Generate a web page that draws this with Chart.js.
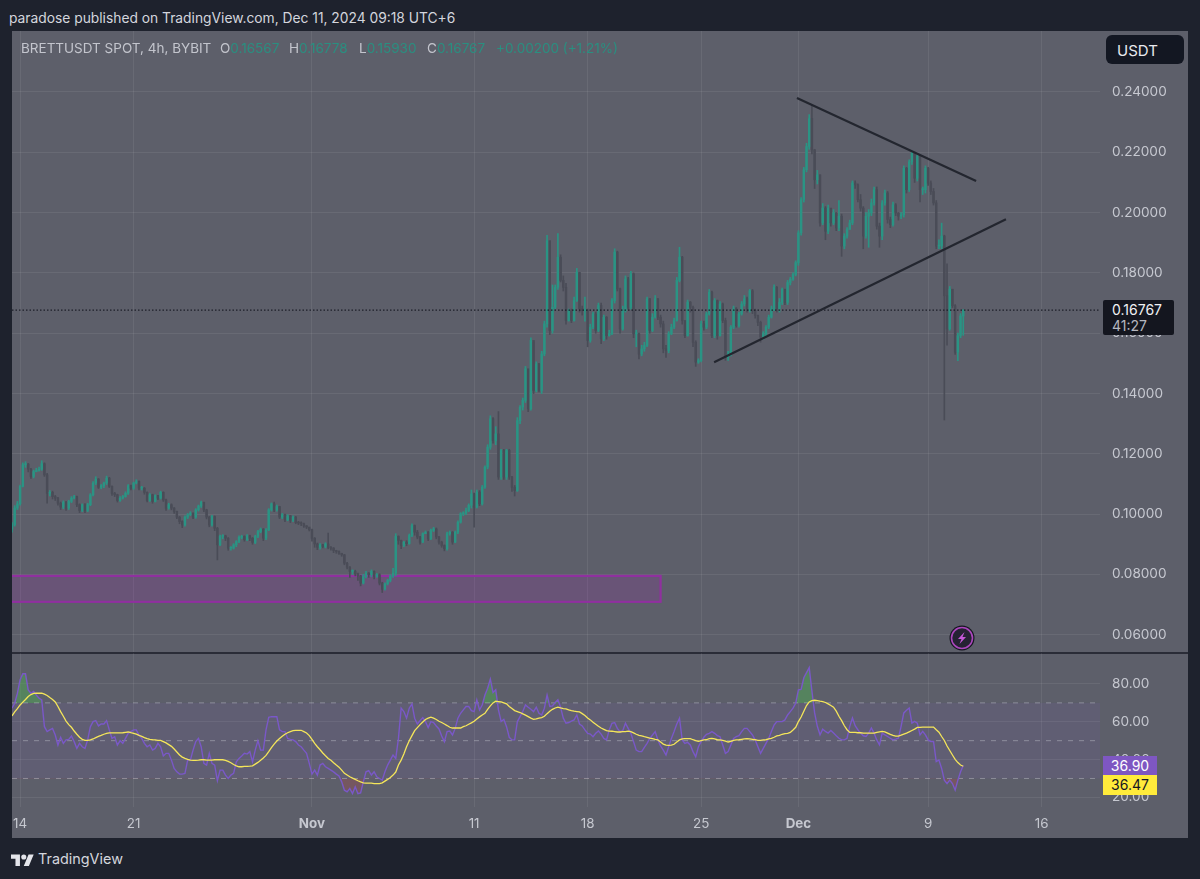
<!DOCTYPE html>
<html><head><meta charset="utf-8">
<script src="https://cdn.jsdelivr.net/npm/chart.js@4/dist/chart.umd.min.js"></script>
<style>
html,body{margin:0;padding:0;background:#1e222d;width:1200px;height:879px;overflow:hidden;font-family:Inter,"Noto Sans",sans-serif}
#panel{position:absolute;left:12px;top:31px;width:1176px;height:807px;background:#5d5f6a}
canvas{position:absolute;display:block}
.t{position:absolute;white-space:pre;line-height:1}
.tag{position:absolute;left:1103px;width:54px;height:19.5px;font-size:14px;line-height:19.5px;text-align:center}
</style></head><body>
<div id="panel"></div>
<canvas id="main" width="1176" height="621" style="left:12px;top:31px"></canvas>
<div style="position:absolute;left:12px;top:652px;width:1176px;height:1.5px;background:#2a2c37"></div>
<canvas id="osc" width="1176" height="185" style="left:12px;top:653px"></canvas>
<div class="t" style="left:9px;top:12px;font-size:13.8px;color:#d4d6dd">paradose published on TradingView.com, Dec 11, 2024 09:18 UTC+6</div>
<div class="t" style="left:21px;top:42px;font-size:13.5px;color:#c3c5cd">BRETTUSDT SPOT, 4h, BYBIT</div>
<div class="t" style="left:220px;top:42px;font-size:13.5px;color:#c3c5cd">O<span style="color:#2a8f80">0.16567</span></div>
<div class="t" style="left:289px;top:42px;font-size:13.5px;color:#c3c5cd">H<span style="color:#2a8f80">0.16778</span></div>
<div class="t" style="left:359px;top:42px;font-size:13.5px;color:#c3c5cd">L<span style="color:#2a8f80">0.15930</span></div>
<div class="t" style="left:427px;top:42px;font-size:13.5px;color:#c3c5cd">C<span style="color:#2a8f80">0.16767</span></div>
<div class="t" style="left:496px;top:42px;font-size:13.5px;color:#2a8f80">+0.00200 (+1.21%)</div>
<div style="position:absolute;left:1106px;top:35px;width:78px;height:29px;background:#131722;border-radius:6px"></div>
<div class="t" style="left:1117px;top:43px;font-size:15px;color:#e8e9ee">USDT</div>
<div style="position:absolute;left:1103px;top:300px;width:71px;height:35px;background:#14161f;border-radius:2px"></div>
<div class="t" style="left:1112px;top:303px;font-size:14px;color:#f0f1f4">0.16767</div>
<div class="t" style="left:1112px;top:319px;font-size:14px;color:#b4b6bf">41:27</div>
<div class="tag" style="top:756px;background:#7e57c2;color:#fff">36.90</div>
<div class="tag" style="top:775px;background:#ffeb3b;color:#131722">36.47</div>
<svg style="position:absolute;left:949px;top:625px" width="26" height="26" viewBox="0 0 26 26"><circle cx="13" cy="13" r="12.5" fill="#14161f"/><circle cx="13" cy="13" r="10.5" fill="#262233" stroke="#ab47bc" stroke-width="1.6"/><path d="M15.5 7 9 14h3.5L10.5 19 17 12h-3.5z" fill="#c558d8"/></svg>
<svg style="position:absolute;left:11px;top:853px" width="23" height="13" viewBox="0 0 36 20"><path d="M14 20H7V9H0V2h14zM28 20h-8l7.5-18h8z" fill="#e4e5ea"/><circle cx="20" cy="6" r="4" fill="#e4e5ea"/></svg>
<div class="t" style="left:38px;top:852px;font-size:14.4px;color:#d4d6dd">TradingView</div>
<script>
const opens=[
.0950,.0964,.1020,.1034,.1092,.1164,.1166,.1149,.1125,.1141,
.1145,.1149,.1167,.1130,.1069,.1072,.1058,.1053,.1036,.1023,
.1039,.1020,.1042,.1053,.1058,.1031,.1012,.1031,.1012,.1031,
.1064,.1103,.1116,.1089,.1094,.1103,.1119,.1092,.1069,.1064,
.1045,.1053,.1058,.1069,.1094,.1086,.1103,.1108,.1086,.1086,
.1072,.1045,.1064,.1042,.1061,.1053,.1072,.1047,.1020,.1031,
.1020,.1009,.0990,.0975,.0964,.0990,.0998,.1003,.0990,.1014,
.1027,.1039,.1014,.0990,.0964,.0992,.0953,.0898,.0926,.0928,
.0920,.0887,.0887,.0898,.0909,.0923,.0926,.0915,.0928,.0920,
.0906,.0926,.0942,.0950,.0920,.0948,.1014,.1034,.1014,.1025,
.0990,.0998,.0981,.0994,.0979,.0990,.0972,.0970,.0968,.0961,
.0957,.0948,.0920,.0901,.0890,.0898,.0893,.0901,.0890,.0887,
.0879,.0876,.0870,.0865,.0837,.0824,.0810,.0810,.0802,.0795,
.0771,.0793,.0804,.0799,.0810,.0793,.0799,.0771,.0751,.0769,
.0780,.0795,.0804,.0926,.0913,.0896,.0907,.0902,.0929,.0962,
.0940,.0924,.0907,.0935,.0940,.0918,.0946,.0951,.0924,.0907,
.0896,.0885,.0935,.0940,.0907,.0940,.0973,.1001,.1003,.1012,
.1029,.1067,.1023,.1073,.1034,.1089,.1156,.1222,.1316,.1244,
.1266,.1123,.1211,.1123,.1211,.1123,.1089,.1078,.1310,.1355,
.1377,.1482,.1349,.1576,.1410,.1498,.1410,.1531,.1631,.1907,
.1609,.1686,.1752,.1852,.1775,.1752,.1642,.1675,.1642,.1708,
.1802,.1681,.1675,.1675,.1576,.1620,.1664,.1609,.1692,.1581,
.1653,.1592,.1598,.1708,.1869,.1747,.1614,.1675,.1780,.1686,
.1797,.1598,.1598,.1531,.1548,.1559,.1714,.1609,.1653,.1714,
.1653,.1631,.1548,.1542,.1598,.1620,.1642,.1775,.1852,.1642,
.1592,.1703,.1686,.1570,.1504,.1509,.1631,.1620,.1664,.1736,
.1592,.1708,.1592,.1697,.1642,.1520,.1531,.1620,.1681,.1625,
.1664,.1697,.1714,.1675,.1741,.1675,.1659,.1636,.1587,.1598,
.1620,.1653,.1681,.1752,.1681,.1702,.1746,.1702,.1768,.1779,
.1795,.1834,.1933,.2043,.2142,.2219,.2312,.2208,.2109,.2125,
.1966,.2015,.1938,.2015,.1966,.1999,.1949,.1988,.1889,.1922,
.1944,.1966,.2098,.2092,.2043,.2015,.1922,.1988,.1999,.2032,
.2076,.1955,.1922,.2032,.2065,.1977,.1960,.2026,.1999,.1988,
.1993,.2147,.2076,.2169,.2197,.2114,.2186,.2076,.2076,.2147,
.2098,.2070,.2032,.1889,.1889,.1922,.1724,.1614,.1746,.1691,
.1537,.1592,.1657];
const closes=[
.0964,.1020,.1034,.1092,.1164,.1166,.1149,.1125,.1141,.1145,
.1149,.1167,.1130,.1069,.1072,.1058,.1053,.1036,.1023,.1039,
.1020,.1042,.1053,.1058,.1031,.1012,.1031,.1012,.1031,.1064,
.1103,.1116,.1089,.1094,.1103,.1119,.1092,.1069,.1064,.1045,
.1053,.1058,.1069,.1094,.1086,.1103,.1108,.1086,.1086,.1072,
.1045,.1064,.1042,.1061,.1053,.1072,.1047,.1020,.1031,.1020,
.1009,.0990,.0975,.0964,.0990,.0998,.1003,.0990,.1014,.1027,
.1039,.1014,.0990,.0964,.0992,.0953,.0898,.0926,.0928,.0920,
.0887,.0887,.0898,.0909,.0923,.0926,.0915,.0928,.0920,.0906,
.0926,.0942,.0950,.0920,.0948,.1014,.1034,.1014,.1025,.0990,
.0998,.0981,.0994,.0979,.0990,.0972,.0970,.0968,.0961,.0957,
.0948,.0920,.0901,.0890,.0898,.0893,.0901,.0890,.0887,.0879,
.0876,.0870,.0865,.0837,.0824,.0810,.0810,.0802,.0795,.0771,
.0793,.0804,.0799,.0810,.0793,.0799,.0771,.0751,.0769,.0780,
.0795,.0804,.0926,.0913,.0896,.0907,.0902,.0929,.0962,.0940,
.0924,.0907,.0935,.0940,.0918,.0946,.0951,.0924,.0907,.0896,
.0885,.0935,.0940,.0907,.0940,.0973,.1001,.1003,.1012,.1029,
.1067,.1023,.1073,.1034,.1089,.1156,.1222,.1316,.1244,.1266,
.1123,.1211,.1123,.1211,.1123,.1089,.1078,.1310,.1355,.1377,
.1482,.1349,.1576,.1410,.1498,.1410,.1531,.1631,.1907,.1609,
.1686,.1752,.1852,.1775,.1752,.1642,.1675,.1642,.1708,.1802,
.1681,.1675,.1675,.1576,.1620,.1664,.1609,.1692,.1581,.1653,
.1592,.1598,.1708,.1869,.1747,.1614,.1675,.1780,.1686,.1797,
.1598,.1598,.1531,.1548,.1559,.1714,.1609,.1653,.1714,.1653,
.1631,.1548,.1542,.1598,.1620,.1642,.1775,.1852,.1642,.1592,
.1703,.1686,.1570,.1504,.1509,.1631,.1620,.1664,.1736,.1592,
.1708,.1592,.1697,.1642,.1520,.1531,.1620,.1681,.1625,.1664,
.1697,.1714,.1675,.1741,.1675,.1659,.1636,.1587,.1598,.1620,
.1653,.1681,.1752,.1681,.1702,.1746,.1702,.1768,.1779,.1795,
.1834,.1933,.2043,.2142,.2219,.2312,.2208,.2109,.2125,.1966,
.2015,.1938,.2015,.1966,.1999,.1949,.1988,.1889,.1922,.1944,
.1966,.2098,.2092,.2043,.2015,.1922,.1988,.1999,.2032,.2076,
.1955,.1922,.2032,.2065,.1977,.1960,.2026,.1999,.1988,.1993,
.2147,.2076,.2169,.2197,.2114,.2186,.2076,.2076,.2147,.2098,
.2070,.2032,.1889,.1889,.1922,.1724,.1614,.1746,.1691,.1537,
.1592,.1657,.16767];
const highs=[
.0972,.1028,.1042,.1096,.1170,.1174,.1168,.1152,.1146,.1152,
.1156,.1177,.1170,.1135,.1078,.1076,.1062,.1056,.1040,.1044,
.1042,.1046,.1058,.1062,.1060,.1034,.1034,.1035,.1036,.1068,
.1108,.1124,.1118,.1098,.1106,.1126,.1122,.1094,.1072,.1066,
.1058,.1062,.1074,.1098,.1096,.1106,.1114,.1110,.1092,.1088,
.1074,.1068,.1066,.1064,.1062,.1076,.1074,.1050,.1036,.1034,
.1022,.1010,.0992,.0978,.0994,.1002,.1008,.1004,.1018,.1030,
.1043,.1040,.1016,.0992,.0996,.0994,.0956,.0930,.0932,.0930,
.0922,.0892,.0902,.0912,.0928,.0930,.0928,.0932,.0930,.0922,
.0930,.0946,.0954,.0952,.0952,.1018,.1037,.1040,.1030,.1026,
.1002,.1000,.0998,.0996,.0994,.0992,.0976,.0974,.0970,.0962,
.0952,.0950,.0922,.0904,.0902,.0900,.0905,.0937,.0892,.0889,
.0880,.0878,.0870,.0866,.0840,.0826,.0815,.0814,.0804,.0797,
.0800,.0810,.0806,.0815,.0812,.0803,.0802,.0774,.0772,.0784,
.0798,.0820,.0935,.0928,.0914,.0910,.0912,.0934,.0968,.0964,
.0946,.0926,.0938,.0944,.0942,.0950,.0956,.0954,.0926,.0910,
.0898,.0940,.0944,.0942,.0944,.0978,.1005,.1008,.1020,.1034,
.1080,.1070,.1080,.1078,.1095,.1160,.1230,.1326,.1320,.1290,
.1340,.1215,.1215,.1215,.1215,.1125,.1095,.1320,.1360,.1385,
.1490,.1480,.1585,.1570,.1505,.1500,.1540,.1640,.1925,.1855,
.1760,.1760,.1930,.1860,.1790,.1765,.1680,.1680,.1720,.1815,
.1800,.1690,.1720,.1680,.1630,.1670,.1670,.1700,.1700,.1660,
.1655,.1610,.1715,.1880,.1872,.1750,.1690,.1790,.1785,.1805,
.1800,.1610,.1600,.1560,.1570,.1720,.1715,.1665,.1725,.1715,
.1660,.1640,.1560,.1605,.1630,.1650,.1785,.1885,.1855,.1640,
.1710,.1705,.1690,.1575,.1515,.1640,.1640,.1670,.1745,.1740,
.1715,.1710,.1705,.1700,.1650,.1540,.1625,.1690,.1685,.1670,
.1705,.1725,.1720,.1745,.1745,.1680,.1660,.1640,.1605,.1625,
.1660,.1690,.1760,.1755,.1715,.1750,.1745,.1775,.1785,.1800,
.1840,.1940,.2050,.2150,.2230,.2325,.2355,.2210,.2140,.2125,
.2030,.2020,.2025,.2010,.2010,.2000,.2040,.1995,.1930,.1950,
.1975,.2105,.2105,.2095,.2060,.2020,.2000,.2010,.2045,.2085,
.2085,.1965,.2040,.2075,.2070,.1985,.2035,.2030,.2000,.2000,
.2155,.2150,.2175,.2205,.2195,.2195,.2190,.2085,.2155,.2150,
.2105,.2080,.2040,.1910,.1965,.1925,.1830,.1755,.1745,.1695,
.1600,.1665,.16778];
const lows=[
.0940,.0960,.1015,.1030,.1090,.1155,.1140,.1118,.1120,.1140,
.1142,.1145,.1125,.1036,.1060,.1050,.1045,.1030,.1015,.1018,
.1012,.1015,.1038,.1050,.1025,.1005,.1008,.1005,.1008,.1028,
.1060,.1098,.1085,.1084,.1088,.1098,.1088,.1062,.1058,.1040,
.1042,.1050,.1056,.1065,.1080,.1082,.1100,.1080,.1080,.1066,
.1040,.1042,.1036,.1040,.1048,.1050,.1042,.1012,.1016,.1014,
.1002,.0985,.0968,.0955,.0960,.0985,.0995,.0985,.0986,.1010,
.1022,.1008,.0984,.0958,.0960,.0945,.0848,.0895,.0918,.0912,
.0880,.0880,.0884,.0892,.0905,.0918,.0910,.0912,.0912,.0900,
.0902,.0922,.0938,.0912,.0915,.0945,.1010,.1008,.1010,.0985,
.0985,.0975,.0978,.0972,.0975,.0968,.0965,.0962,.0956,.0952,
.0944,.0910,.0890,.0882,.0884,.0888,.0888,.0885,.0880,.0872,
.0870,.0866,.0860,.0832,.0818,.0790,.0800,.0795,.0780,.0762,
.0768,.0788,.0790,.0792,.0785,.0790,.0765,.0740,.0748,.0765,
.0775,.0790,.0795,.0900,.0885,.0892,.0895,.0900,.0925,.0930,
.0918,.0900,.0905,.0935,.0912,.0915,.0942,.0918,.0900,.0890,
.0878,.0880,.0930,.0900,.0905,.0935,.0970,.0995,.0998,.1008,
.1020,.0957,.1020,.1028,.1030,.1085,.1150,.1215,.1235,.1230,
.1115,.1115,.1115,.1115,.1115,.1075,.1060,.1075,.1300,.1345,
.1370,.1340,.1345,.1400,.1405,.1405,.1400,.1525,.1620,.1595,
.1600,.1680,.1745,.1770,.1740,.1630,.1640,.1635,.1640,.1705,
.1670,.1660,.1640,.1555,.1570,.1615,.1600,.1605,.1565,.1575,
.1580,.1590,.1595,.1700,.1740,.1600,.1610,.1670,.1680,.1680,
.1585,.1555,.1515,.1525,.1540,.1555,.1600,.1605,.1650,.1645,
.1620,.1535,.1520,.1535,.1595,.1615,.1640,.1770,.1630,.1585,
.1590,.1670,.1555,.1490,.1500,.1505,.1610,.1615,.1660,.1585,
.1585,.1580,.1590,.1635,.1510,.1510,.1525,.1615,.1620,.1620,
.1660,.1690,.1670,.1670,.1665,.1650,.1625,.1570,.1580,.1590,
.1615,.1650,.1675,.1670,.1670,.1695,.1695,.1695,.1760,.1775,
.1790,.1825,.1925,.2035,.2135,.2210,.2195,.2080,.2095,.1955,
.1960,.1910,.1930,.1955,.1960,.1940,.1940,.1855,.1880,.1915,
.1950,.1960,.2080,.2035,.2005,.1880,.1915,.1885,.1990,.2025,
.1945,.1885,.1910,.2025,.1965,.1950,.1955,.1990,.1975,.1980,
.1985,.2065,.2070,.2160,.2100,.2105,.2035,.2060,.2065,.2090,
.2060,.2025,.1880,.1880,.1880,.1312,.1560,.1610,.1685,.1530,
.1509,.1585,.1593];
const rsiValues=[
67.2,69.8,75.1,82.2,85.4,85.4,76.9,75.1,76.0,74.2,
72.5,71.6,57.4,54.8,55.7,56.5,53.0,47.7,51.8,48.6,
50.4,50.7,52.5,49.5,45.9,48.6,46.8,45.9,50.4,57.4,
60.1,60.6,57.8,58.8,58.8,60.6,55.7,51.2,52.1,47.7,
50.0,48.6,51.2,53.9,54.8,55.7,55.7,53.0,51.2,48.6,
46.8,47.7,45.0,45.9,48.6,46.8,41.9,43.3,43.3,39.7,
35.3,33.5,32.3,32.3,32.7,39.7,39.7,45.0,49.5,51.2,
46.8,38.0,37.1,43.3,38.0,37.1,28.8,34.4,34.4,31.8,
30.0,31.8,32.7,38.8,40.6,41.9,43.3,42.9,44.2,38.8,
45.0,50.0,45.0,45.0,55.7,62.4,62.7,62.7,62.7,55.7,
54.8,54.8,51.2,50.7,50.4,49.5,47.7,46.8,45.0,43.3,
38.0,32.3,34.4,31.8,37.1,38.0,36.2,35.3,34.4,33.5,
32.3,31.3,28.2,23.8,22.9,24.7,22.0,25.6,22.0,22.4,
28.2,33.5,34.1,31.8,33.5,30.9,30.0,29.1,33.5,37.1,
39.7,42.4,40.6,51.2,67.2,65.4,61.9,67.2,69.5,61.9,
58.8,60.6,62.2,60.1,56.9,60.1,59.6,57.8,56.2,52.5,
49.5,54.8,55.1,53.0,56.5,61.9,64.5,66.3,68.1,68.1,
65.9,65.4,71.6,66.3,68.9,74.2,77.8,82.6,75.5,76.9,
66.3,60.1,61.3,57.4,51.8,50.4,50.4,60.1,62.7,65.4,
68.9,67.7,66.6,65.4,67.7,64.5,63.6,67.2,74.2,68.1,
68.4,70.2,71.6,67.7,61.9,59.2,59.6,60.4,61.0,63.6,
58.8,57.8,55.7,53.9,53.5,52.1,53.9,55.1,53.5,51.2,
50.4,55.7,59.2,59.6,56.5,54.8,55.3,59.2,56.5,53.9,
49.5,45.0,44.2,44.2,46.5,48.6,51.2,53.0,54.8,50.4,
47.2,45.0,42.4,46.8,51.2,54.8,58.8,61.9,50.4,48.6,
49.1,47.7,44.2,41.5,46.8,49.5,51.8,53.4,53.9,54.8,
53.9,52.7,52.1,47.7,43.3,44.2,47.7,51.2,52.1,52.7,
54.8,56.5,56.5,54.8,53.0,50.4,46.8,43.3,45.9,48.6,
51.2,54.8,58.3,60.1,60.1,60.1,61.0,63.6,65.4,67.2,
69.8,76.9,77.1,83.3,86.0,88.7,76.2,64.7,57.6,53.1,
56.1,54.9,54.0,55.4,54.0,52.6,51.3,50.4,50.4,51.3,
57.6,62.0,57.9,55.8,54.0,52.6,52.2,54.0,56.7,54.0,
50.4,47.8,54.0,53.1,52.2,51.3,50.4,50.8,51.3,57.6,
64.7,66.1,67.3,59.3,60.2,59.3,53.1,54.9,53.1,50.4,
49.6,49.6,38.9,39.8,35.3,29.1,27.3,29.1,27.3,23.8,
29.1,33.6,36.9];
const rsiMA=[
63.1,65.2,67.0,68.9,70.4,71.8,73.4,74.4,75.0,75.1,
75.1,75.1,74.6,73.9,72.8,71.8,70.5,68.1,65.4,62.9,
60.4,58.5,57.1,55.1,53.4,51.8,50.7,50.2,50.2,50.4,
50.9,51.6,52.3,52.8,53.4,53.9,54.1,54.1,54.1,54.1,
54.1,54.2,54.4,54.6,54.2,53.9,53.5,52.8,52.3,51.6,
51.1,50.7,50.5,50.4,50.2,50.2,49.5,48.8,47.9,47.0,
45.6,44.0,42.4,41.3,40.6,40.1,39.7,39.6,39.6,39.7,
39.9,39.9,39.7,39.7,39.7,39.9,39.9,39.9,39.9,39.6,
39.0,38.3,37.4,36.7,36.2,36.2,36.4,36.4,36.5,36.7,
37.6,38.5,39.6,40.8,42.2,44.2,46.3,48.2,49.8,51.1,
52.3,53.4,54.2,54.8,55.3,55.5,55.5,55.5,54.8,54.1,
52.7,50.7,48.6,46.8,45.2,43.5,42.0,40.6,39.6,38.3,
37.1,36.0,34.4,32.7,31.8,30.9,30.2,29.5,28.8,28.2,
27.7,27.5,27.5,27.5,27.3,27.3,27.3,27.7,28.6,29.5,
30.5,31.8,33.4,37.1,39.7,42.9,46.8,50.0,52.7,55.3,
56.9,58.5,59.9,61.2,61.9,62.4,61.9,61.2,60.3,59.6,
58.8,58.0,57.1,56.7,56.7,56.7,56.7,57.4,57.9,58.7,
59.4,60.3,61.5,62.6,63.6,64.5,66.6,68.4,70.0,70.9,
70.7,70.5,70.0,69.5,68.1,67.0,65.9,65.4,64.9,64.2,
63.5,62.7,61.9,61.3,61.5,61.9,62.2,62.9,64.3,65.6,
66.6,67.3,67.7,67.3,67.0,66.8,66.3,65.9,65.6,65.4,
65.2,64.3,63.3,62.0,61.0,59.7,58.7,57.6,56.7,56.0,
55.3,55.1,55.0,54.8,54.6,54.6,54.8,54.8,55.0,54.8,
54.1,53.4,52.8,52.5,52.1,51.8,51.4,51.1,50.7,50.4,
49.3,48.2,47.7,47.5,47.7,48.1,49.3,50.4,50.9,51.1,
51.1,51.1,50.5,50.0,49.6,50.0,50.4,50.5,51.1,51.2,
50.9,50.5,50.4,50.2,49.8,49.3,49.6,50.2,50.4,50.5,
50.7,50.9,51.1,50.9,50.7,50.5,50.2,50.2,50.4,50.5,
50.9,51.2,51.8,52.5,52.8,53.4,53.7,53.9,54.4,55.7,
57.1,60.1,62.5,65.6,68.6,70.5,71.2,71.4,71.2,70.9,
70.7,70.2,69.5,68.6,67.7,65.6,62.9,60.6,57.9,55.8,
54.4,54.4,54.4,54.2,54.2,54.0,54.0,54.0,54.0,54.0,
54.4,54.7,54.9,54.7,54.0,53.3,52.8,52.4,52.4,52.9,
53.5,54.0,54.7,55.4,56.1,57.0,57.0,57.2,57.2,57.2,
57.2,57.2,55.8,54.5,52.2,50.1,47.2,44.8,42.4,40.1,
38.4,37.1,36.47];
const priceTicks=[0.06,0.08,0.10,0.12,0.14,0.16,0.18,0.20,0.22,0.24];
const rsiTicks=[20,40,60,80];
const rsiLevels=[70,50,30];
const dayTicks=[0,7,18,28,35,42,48,56,63];
const dayLabels=["14","21","Nov","11","18","25","Dec","9","16"];
const boldLabels=["Nov","Dec"];
const lastPrice=0.16767;
const trendUpper=[[47.91,0.2380],[58.96,0.2105]];
const trendLower=[[42.8,0.1504],[60.8,0.1978]];
const zone={from:-1,to:39.5,top:0.0795,bottom:0.0709};
const viewDays=[-0.5,66.6];
const firstCandleDay=-0.5, candlesPerDay=6;

const UP='#2a9484',DOWN='#4a4c57',GRID='rgba(255,255,255,0.07)',TXT='#c6c8d0';
const FONT='Inter, "Noto Sans", sans-serif';
const dayOf=i=>firstCandleDay+i/candlesPerDay;
const noPad=s=>{s.paddingLeft=0;s.paddingRight=0;s.paddingTop=0;s.paddingBottom=0;if(s._margins){s._margins.left=0;s._margins.right=0;s._margins.top=0;s._margins.bottom=0}};
const lineSet=(pts,color,width,dash,order)=>({type:'line',data:pts.map(p=>({x:p[0],y:p[1]})),borderColor:color,borderWidth:width,borderDash:dash||[],pointRadius:0,tension:0,order,fill:false});
const xBase=()=>({type:'linear',min:viewDays[0],max:viewDays[1],offset:false,
  afterBuildTicks:s=>{s.ticks=dayTicks.map(v=>({value:v}))},
  grid:{color:GRID,lineWidth:1,drawTicks:false,offset:false},border:{display:false}});

const zonePlugin={id:'zone',beforeDatasetsDraw(c){
  const {ctx,scales:{x,y},chartArea:a}=c;
  const l=x.getPixelForValue(zone.from),r=x.getPixelForValue(zone.to),t=y.getPixelForValue(zone.top),b=y.getPixelForValue(zone.bottom);
  ctx.save();ctx.beginPath();ctx.rect(a.left,a.top,a.right-a.left,a.bottom-a.top);ctx.clip();
  ctx.fillStyle='rgba(156,39,176,0.20)';ctx.fillRect(l,t,r-l,b-t);
  ctx.strokeStyle='#90309f';ctx.lineWidth=2.2;ctx.strokeRect(l,t,r-l,b-t);ctx.restore();
}};
const bandPlugin={id:'band',beforeDatasetsDraw(c){
  const {ctx,scales:{y},chartArea:a}=c;
  const t=y.getPixelForValue(rsiLevels[0]),b=y.getPixelForValue(rsiLevels[2]);
  ctx.save();ctx.fillStyle='rgba(126,87,194,0.10)';ctx.fillRect(a.left,t,a.right-a.left,b-t);ctx.restore();
}};

new Chart(document.getElementById('main'),{
  type:'bar',
  data:{datasets:[
    {label:'wick',data:closes.map((c,i)=>({x:dayOf(i),y:[lows[i],highs[i]]})),
     backgroundColor:closes.map((c,i)=>c>=opens[i]?UP:DOWN),barThickness:1,grouped:false,order:4},
    {label:'body',data:closes.map((c,i)=>({x:dayOf(i),y:[opens[i],c]})),
     backgroundColor:closes.map((c,i)=>c>=opens[i]?UP:DOWN),barThickness:1.8,minBarLength:1,grouped:false,order:3},
    lineSet(viewDays.map(d=>[d,lastPrice]),'#1d1f29',1.2,[1.5,2],2),
    lineSet(trendUpper,'#23262f',2.2,[],1),
    lineSet(trendLower,'#23262f',2.2,[],1)
  ]},
  options:{responsive:false,animation:false,events:[],layout:{padding:0},
    plugins:{legend:{display:false},tooltip:{enabled:false}},
    scales:{
      x:Object.assign(xBase(),{ticks:{display:false},afterFit:s=>{s.height=0;noPad(s)}}),
      y:{position:'right',min:0.05426,max:0.26023,
        afterBuildTicks:s=>{s.ticks=priceTicks.map(v=>({value:v}))},
        afterFit:s=>{s.width=88;noPad(s)},
        ticks:{padding:12,color:TXT,font:{family:FONT,size:13.6},callback:v=>v.toFixed(5)},
        grid:{color:GRID,drawTicks:false},border:{display:false}}
    }},
  plugins:[zonePlugin]
});

const rsiPts=rsiValues.map((v,i)=>({x:dayOf(i),y:v}));
new Chart(document.getElementById('osc'),{
  type:'line',
  data:{datasets:[
    {label:'RSI high',data:rsiPts,borderColor:'rgba(0,0,0,0)',borderWidth:0,pointRadius:0,order:5,
     fill:{target:{value:70},above:'rgba(76,175,80,0.45)',below:'rgba(0,0,0,0)'}},
    {label:'RSI low',data:rsiPts,borderColor:'rgba(0,0,0,0)',borderWidth:0,pointRadius:0,order:5,
     fill:{target:{value:30},above:'rgba(0,0,0,0)',below:'rgba(229,57,53,0.18)'}},
    ...rsiLevels.map(l=>lineSet(viewDays.map(d=>[d,l]),'rgba(210,212,220,0.40)',1,[5,6],4)),
    {label:'RSI',data:rsiPts,borderColor:'#7a58c8',borderWidth:1.4,pointRadius:0,tension:0,fill:false,order:2},
    {label:'MA',data:rsiMA.map((v,i)=>({x:dayOf(i),y:v})),borderColor:'#f5e65a',borderWidth:1.3,pointRadius:0,tension:0,fill:false,order:1}
  ]},
  options:{responsive:false,animation:false,events:[],layout:{padding:0},
    plugins:{legend:{display:false},tooltip:{enabled:false}},
    scales:{
      x:Object.assign(xBase(),{
        afterFit:s=>{s.height=31;noPad(s)},
        ticks:{padding:9,maxRotation:0,autoSkip:false,color:TXT,
          font:c=>({family:FONT,size:13.4,weight:boldLabels.includes(dayLabels[c.index])?'700':'400'}),
          callback:(v,i)=>dayLabels[i]}}),
      y:{position:'right',min:14.9,max:96.4,
        afterBuildTicks:s=>{s.ticks=rsiTicks.map(v=>({value:v}))},
        afterFit:s=>{s.width=88;noPad(s)},
        ticks:{padding:12,color:TXT,font:{family:FONT,size:13.6},callback:v=>v.toFixed(2)},
        grid:{color:GRID,drawTicks:false},border:{display:false}}
    }},
  plugins:[bandPlugin]
});
</script>
</body></html>
